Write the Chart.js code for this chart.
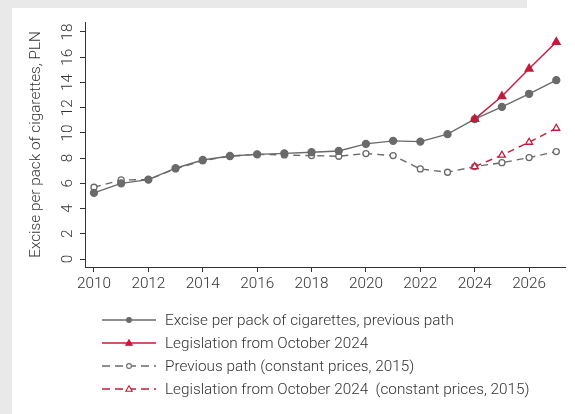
<!DOCTYPE html>
<html>
<head>
<meta charset="utf-8">
<script src="https://cdn.jsdelivr.net/npm/chart.js@4/dist/chart.umd.min.js"></script>
<style>
  html, body { margin: 0; padding: 0; }
  body { width: 575px; height: 414px; background: #e9e9e9; position: relative; overflow: hidden;
         font-family: Roboto, sans-serif; }
  .panel { position: absolute; left: 12px; top: 8px; right: 0; bottom: 0; background: #fff; }
  .notch { position: absolute; left: 527px; top: 0; width: 48px; height: 8px; background: #fff; }
  .wrap { position: absolute; left: 0; top: 0; width: 575px; height: 300px; }
  .legend { position: absolute; left: 100px; top: 308px; }
  .row { height: 23px; display: flex; align-items: center; }
  .row canvas { width: 58px; height: 14px; margin-right: 7px; }
  .row span { font-size: 15.3px; font-weight: 300; color: #333; white-space: pre; }
</style>
</head>
<body>
<div class="panel"></div>
<div class="notch"></div>
<div class="wrap"><canvas id="excise"></canvas></div>
<div class="legend" id="legend"></div>
<script>
const years = [2010, 2011, 2012, 2013, 2014, 2015, 2016, 2017, 2018, 2019, 2020, 2021, 2022, 2023, 2024, 2025, 2026, 2027];
const legYears = [2024, 2025, 2026, 2027];

const previousPath = [5.25, 6.0, 6.3, 7.2, 7.85, 8.17, 8.3, 8.38, 8.47, 8.57, 9.13, 9.37, 9.31, 9.9, 11.09, 12.06, 13.1, 14.18];
const legislation = [11.09, 12.9, 15.08, 17.2];
const previousConst = [5.69, 6.27, 6.3, 7.15, 7.8, 8.15, 8.3, 8.25, 8.2, 8.15, 8.36, 8.2, 7.14, 6.88, 7.33, 7.64, 8.04, 8.52];
const legislationConst = [7.33, 8.23, 9.26, 10.37];

const seriesLabels = [
  'Excise per pack of cigarettes, previous path',
  'Legislation from October 2024',
  'Previous path (constant prices, 2015)',
  'Legislation from October 2024  (constant prices, 2015)',
];
const yTicks = [0, 2, 4, 6, 8, 10, 12, 14, 16, 18];
const xTicks = [2010, 2012, 2014, 2016, 2018, 2020, 2022, 2024, 2026];

const GREY = '#6a6a6a';
const RED = '#c41a3b';
const FONT = 'Roboto, sans-serif';

const toPts = (xs, ys) => ys.map((v, i) => ({ x: xs[i], y: v }));

const styles = [
  { color: GREY, dash: [], point: 'circle', radius: 3.5, fill: GREY, order: 3 },
  { color: RED, dash: [], point: 'triangle', radius: 4.5, fill: RED, order: 1 },
  { color: GREY, dash: [7, 5], point: 'circle', radius: 3, fill: '#fff', order: 4 },
  { color: RED, dash: [7, 5], point: 'triangle', radius: 4, fill: '#fff', order: 2 },
];
const dataSets = [toPts(years, previousPath), toPts(legYears, legislation), toPts(years, previousConst), toPts(legYears, legislationConst)];

// eslint-disable-next-line no-undef
new Chart(document.getElementById('excise'), {
  type: 'line',
  data: {
    datasets: dataSets.map((pts, i) => ({
      label: seriesLabels[i],
      data: pts,
      borderColor: styles[i].color,
      borderWidth: 1.4,
      borderDash: styles[i].dash,
      pointStyle: styles[i].point,
      pointRadius: styles[i].radius,
      pointBackgroundColor: styles[i].fill,
      pointBorderColor: styles[i].color,
      pointBorderWidth: 1.3,
      order: styles[i].order,
      tension: 0,
    })),
  },
  options: {
    responsive: true,
    maintainAspectRatio: false,
    animation: false,
    parsing: false,
    layout: { padding: { left: 0, top: 22, right: 10, bottom: 0 } },
    plugins: { legend: { display: false }, tooltip: { enabled: false } },
    scales: {
      x: {
        type: 'linear',
        min: 2009.67,
        max: 2027.32,
        afterBuildTicks: (s) => { s.ticks = xTicks.map((v) => ({ value: v })); },
        afterFit: (s) => { s.height = 33; },
        grid: { drawOnChartArea: false, tickLength: 5, color: '#333', tickColor: '#333' },
        border: { color: '#333', width: 1 },
        ticks: { color: '#333', padding: 3, font: { family: FONT, size: 15.3, weight: 300 }, callback: (v) => String(v) },
      },
      y: {
        min: -0.63,
        max: 18.79,
        afterBuildTicks: (s) => { s.ticks = yTicks.map((v) => ({ value: v })); },
        afterFit: (s) => { s.width = 85; },
        grid: { drawOnChartArea: false, tickLength: 5, color: '#333', tickColor: '#333' },
        border: { color: '#333', width: 1 },
        ticks: { color: '#333', minRotation: 90, maxRotation: 90, crossAlign: 'center', padding: 3,
                 font: { family: FONT, size: 15.3, weight: 300 } },
        title: { display: true, text: 'Excise per pack of cigarettes, PLN', color: '#333',
                 padding: { top: 27 }, font: { family: FONT, size: 15.3, weight: 300 } },
      },
    },
  },
});

// legend rows: small canvas swatch with line + marker, then label
const legend = document.getElementById('legend');
styles.forEach((st, i) => {
  const row = document.createElement('div');
  row.className = 'row';
  const c = document.createElement('canvas');
  c.width = 58; c.height = 14;
  const ctx = c.getContext('2d');
  ctx.strokeStyle = st.color;
  ctx.lineWidth = 1.4;
  ctx.setLineDash(st.dash.length ? [8, 5] : []);
  ctx.beginPath(); ctx.moveTo(2, 7); ctx.lineTo(56, 7); ctx.stroke();
  ctx.setLineDash([]);
  ctx.fillStyle = st.fill;
  ctx.beginPath();
  if (st.point === 'circle') {
    ctx.arc(29, 7, 2.4, 0, Math.PI * 2);
  } else {
    ctx.moveTo(29, 3.8); ctx.lineTo(32.2, 9.3); ctx.lineTo(25.8, 9.3); ctx.closePath();
  }
  ctx.fill(); ctx.lineWidth = 1.1; ctx.stroke();
  const s = document.createElement('span');
  s.textContent = seriesLabels[i];
  row.appendChild(c); row.appendChild(s);
  legend.appendChild(row);
});
</script>
</body>
</html>
